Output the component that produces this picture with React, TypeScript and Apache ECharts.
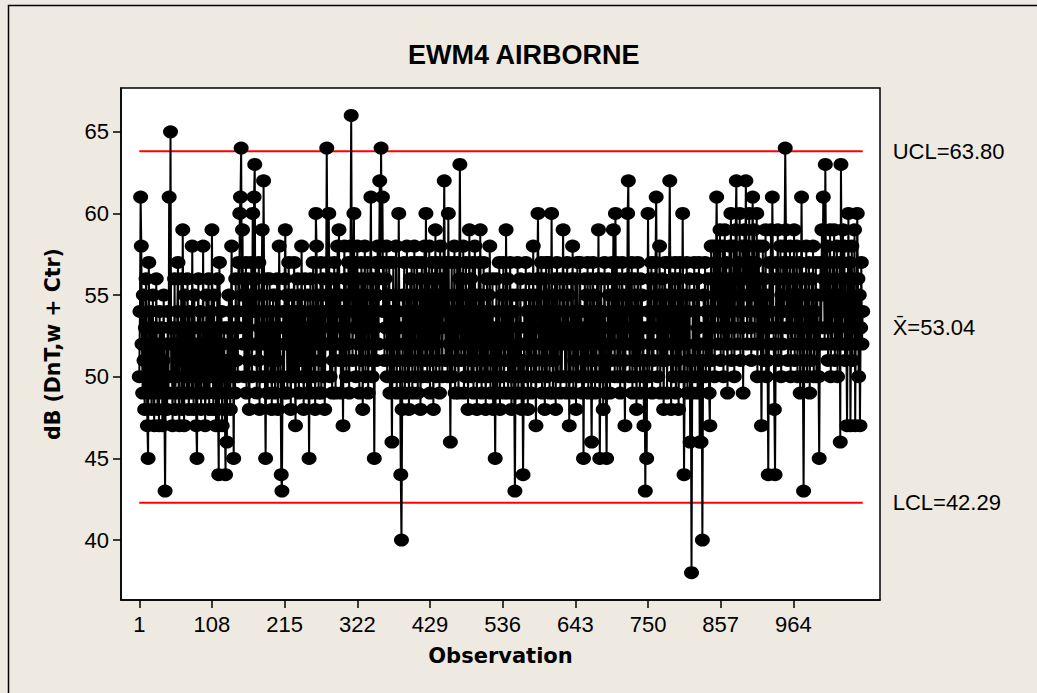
import React, { useEffect, useRef } from "react";
import * as echarts from "echarts";

const obsPart1 = [
  50,54,61,58,52,49,55,51,48,53,56,50,47,45,57,52,49,54,48,51,55,50,47,53,49,
  56,51,48,52,47,54,50,49,53,47,51,55,48,43,50,52,48,54,49,61,53,65,50,52,47,
  53,49,56,48,52,50,54,57,49,47,53,51,56,48,59,52,47,55,50,53,49,56,51,48,54,
  50,53,49,58,51,48,55,50,52,47,45,53,56,49,51,54,48,52,50,58,49,53,47,51,55,
  49,52,56,48,51,54,50,59,52,48,55,49,53,47,50,56,48,44,57,51,49,54,47,52,50,
  53,48,44,51,46,53,49,55,51,48,54,58,50,52,45,53,49,56,51,54,50,57,53,60,61,
  64,55,59,52,56,50,54,57,49,53,56,51,48,55,52,57,50,60,54,61,63,52,56,49,54,
  51,57,48,53,50,55,59,52,62,54,50,45,52,56,49,53,51,56,50,54,48,52,55,50,53,
  49,55,51,56,48,52,58,53,50,44,43,50,54,49,56,59,52,55,49,53,57,50,54,48,52,
  55,50,53,57,51,47,54,50,56,52,49,55,51,53,58,50,54,48,52,56,50,53,49,55,51,
];
const obsPart2 = [
  45,52,56,49,54,51,57,50,53,48,60,58,52,55,49,54,51,57,49,53,56,50,54,48,52,
  55,64,57,52,60,54,50,56,52,49,55,51,57,53,49,56,52,58,54,59,51,55,49,54,52,
  47,54,58,51,56,50,55,52,57,49,54,58,66,56,51,55,60,53,57,50,54,58,52,56,49,
  55,51,57,53,48,56,52,58,50,55,53,57,49,54,51,56,61,54,50,56,52,45,53,57,51,
  55,58,52,56,62,57,64,58,61,54,57,51,56,53,58,50,55,52,57,49,54,51,46,53,57,
  50,55,52,58,49,54,51,60,53,50,44,40,48,55,52,57,49,54,51,58,50,55,48,53,56,
  51,57,49,54,52,58,50,55,53,57,49,54,51,56,48,53,57,50,55,52,58,51,60,54,50,
  56,52,58,49,55,51,57,53,48,56,52,59,50,54,57,51,55,49,58,53,56,50,54,57,62,
  55,51,57,53,50,60,54,52,46,53,57,50,55,52,58,49,54,51,57,53,49,56,63,55,51,
  56,52,58,49,54,50,57,52,55,48,53,59,51,56,50,54,57,49,53,58,51,55,48,54,52,
];
const obsPart3 = [
  57,50,59,53,49,55,51,57,50,54,48,53,56,50,55,52,58,49,54,51,56,48,53,50,45,
  52,56,49,54,51,57,48,53,50,55,52,57,49,54,51,59,52,56,49,54,50,57,52,48,55,
  50,54,49,43,50,55,51,57,49,53,50,56,52,48,51,44,49,55,52,57,50,54,48,53,56,
  51,55,49,54,52,58,50,55,51,47,53,56,60,54,50,56,52,57,49,54,51,56,48,53,57,
  50,55,52,57,49,54,51,60,53,49,55,51,56,48,53,57,50,54,52,56,49,53,50,55,59,
  52,56,50,54,49,57,52,55,47,53,50,56,52,58,49,54,51,56,48,53,57,50,54,52,57,
  50,54,49,53,45,52,56,50,55,51,57,49,54,52,56,50,46,53,57,51,55,49,54,50,56,
  52,59,53,45,51,56,50,54,48,53,57,51,49,45,52,56,50,55,49,54,51,57,52,59,54,
  50,60,53,57,50,55,51,56,49,54,52,57,50,55,51,47,53,56,52,60,62,55,50,56,52,
  57,49,54,51,56,50,55,48,53,57,51,54,49,56,52,55,50,53,47,51,43,50,45,53,60,
];
const obsPart4 = [
  54,50,56,52,57,49,54,51,56,53,57,61,55,50,54,52,58,49,55,51,56,53,48,54,57,
  51,55,49,54,52,57,62,55,48,53,56,50,55,52,57,49,54,51,56,48,53,57,50,55,52,
  60,53,44,50,55,52,57,49,54,51,56,46,51,38,49,55,51,57,50,54,52,56,49,53,57,
  46,52,46,51,40,50,55,52,57,50,54,51,56,53,49,47,54,58,51,56,53,58,50,55,57,
  61,56,52,58,54,59,51,56,53,58,50,55,59,52,57,54,49,56,52,58,54,60,51,56,53,
  58,50,55,59,62,56,52,57,54,60,51,56,53,58,49,55,59,56,62,57,52,58,54,60,53,
  57,51,56,61,55,59,52,57,54,60,50,55,58,52,56,53,47,54,58,51,56,53,59,50,55,
  51,44,52,57,54,59,53,61,56,52,48,44,52,57,53,59,51,56,54,58,50,55,52,57,54,
  58,64,59,53,57,51,56,53,58,50,55,52,57,54,59,51,56,53,58,50,55,52,57,49,54,
  61,55,50,43,51,56,53,58,50,55,52,57,49,54,51,56,53,58,50,54,52,57,50,55,53,
  50,45,52,57,53,59,55,61,56,52,63,57,53,58,51,56,53,59,50,55,52,57,54,59,51,
  56,52,58,50,55,53,57,46,63,57,52,59,54,58,51,56,52,47,54,60,52,57,47,53,58,
  51,56,53,59,47,54,52,60,56,50,55,47,53,57,52,54,
];

const observations = [...obsPart1, ...obsPart2, ...obsPart3, ...obsPart4];

const xTicks = [1, 108, 215, 322, 429, 536, 643, 750, 857, 964];
const yTicks = [40, 45, 50, 55, 60, 65];

const UCL = 63.8;
const CENTER = 53.04;
const LCL = 42.29;
const limitLabels = ["UCL=63.80", "X\u0304=53.04", "LCL=42.29"];

const TITLE = "EWM4 AIRBORNE";
const Y_NAME = "dB (DnT,w + Ctr)";
const X_NAME = "Observation";

export default function App() {
  const ref = useRef<HTMLDivElement>(null);

  useEffect(() => {
    if (!ref.current) return;
    const chart = echarts.init(ref.current, null, { renderer: "svg" });
    const n = observations.length;
    const labelFont = {
      fontFamily: "Liberation Sans",
      fontSize: 22,
      color: "#000",
    };
    const limitSeries = (value: number, label: string, color: string, width: number) => ({
      type: "line",
      data: [
        [1, value],
        [n, value],
      ],
      symbol: "none",
      silent: true,
      z: 1,
      lineStyle: { color, width, type: "solid" },
      endLabel: {
        show: true,
        formatter: () => label,
        distance: 30,
        ...labelFont,
      },
    });

    chart.setOption({
      animation: false,
      backgroundColor: "#EEEAE1",
      title: {
        text: TITLE,
        left: 408,
        top: 41,
        padding: 0,
        textStyle: {
          fontFamily: "Liberation Sans",
          fontWeight: "bold",
          fontSize: 27,
          color: "#000",
        },
      },
      graphic: [
        {
          type: "rect",
          shape: { x: 8.5, y: 5.5, width: 1040, height: 700 },
          style: { fill: "none", stroke: "#000", lineWidth: 1.5 },
          silent: true,
          z: -1,
        },
      ],
      grid: {
        left: 121,
        top: 88,
        right: 157,
        bottom: 93,
        show: true,
        backgroundColor: "#fff",
        borderColor: "#000",
        borderWidth: 1.5,
      },
      xAxis: {
        type: "value",
        min: -25.9,
        max: 1091.5,
        name: X_NAME,
        nameLocation: "middle",
        nameGap: 45,
        nameTextStyle: {
          fontFamily: "DejaVu Sans",
          fontWeight: "bold",
          fontSize: 21,
          color: "#000",
        },
        axisLine: { show: true, onZero: false, lineStyle: { color: "#000", width: 1.5 } },
        axisTick: {
          show: true,
          length: 8,
          inside: false,
          customValues: xTicks,
          lineStyle: { color: "#000", width: 1.5 },
        },
        axisLabel: {
          customValues: xTicks,
          margin: 13,
          ...labelFont,
        },
        splitLine: { show: false },
      },
      yAxis: {
        type: "value",
        min: 36.33,
        max: 67.68,
        name: Y_NAME,
        nameLocation: "middle",
        nameGap: 58,
        nameRotate: 90,
        nameTextStyle: {
          fontFamily: "DejaVu Sans",
          fontWeight: "bold",
          fontSize: 20.5,
          color: "#000",
        },
        axisLine: { show: true, onZero: false, lineStyle: { color: "#000", width: 1.5 } },
        axisTick: {
          show: true,
          length: 8,
          inside: false,
          customValues: yTicks,
          lineStyle: { color: "#000", width: 1.5 },
        },
        axisLabel: {
          customValues: yTicks,
          margin: 12,
          ...labelFont,
        },
        splitLine: { show: false },
      },
      series: [
        limitSeries(UCL, limitLabels[0], "#ff0000", 2),
        limitSeries(CENTER, limitLabels[1], "#00c000", 1.5),
        limitSeries(LCL, limitLabels[2], "#ff0000", 2),
        {
          type: "line",
          data: observations.map((v, i) => [i + 1, v]),
          symbol: "circle",
          symbolSize: [15, 13],
          showAllSymbol: true,
          z: 3,
          itemStyle: { color: "#000", borderWidth: 0 },
          lineStyle: { color: "#000", width: 2 },
        },
      ],
    });
    return () => chart.dispose();
  }, []);

  return (
    <div
      ref={ref}
      style={{ position: "fixed", left: 0, top: 0, width: 1037, height: 693 }}
    />
  );
}
